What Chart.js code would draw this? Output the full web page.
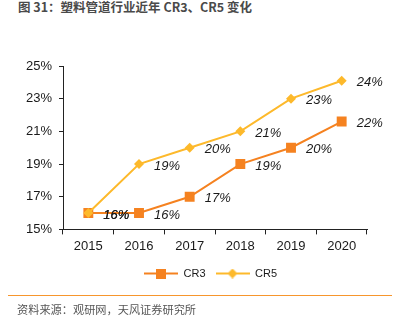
<!DOCTYPE html>
<html>
<head>
<meta charset="utf-8">
<script src="https://cdn.jsdelivr.net/npm/chart.js@4/dist/chart.umd.min.js"></script>
<style>
  body { margin: 0; background: #fff; width: 393px; height: 322px; overflow: hidden; position: relative; }
  #title { position: absolute; left: 18px; top: -1px; font: bold 12.5px "Noto Sans CJK SC", sans-serif; color: #4a4a4a; line-height: 15px; }
  #wrap { position: absolute; left: 0; top: 0; width: 393px; height: 296px; }
  #rule { position: absolute; left: 8px; top: 295px; width: 384px; height: 0; border-top: 1.5px solid #f7962d; }
  #src { position: absolute; left: 17px; top: 302px; font: 11.2px "Noto Sans CJK SC", sans-serif; color: #555; line-height: 15px; }
</style>
</head>
<body>
<div id="title">图 31：塑料管道行业近年 CR3、CR5 变化</div>
<div id="wrap"><canvas id="c"></canvas></div>
<div id="rule"></div>
<div id="src">资料来源：观研网，天风证券研究所</div>
<script>
const years = ['2015', '2016', '2017', '2018', '2019', '2020'];
const cr3 = [16.0, 16.0, 17.0, 19.0, 20.0, 21.6];
const cr5 = [16.0, 19.0, 20.0, 21.0, 23.0, 24.1];
const yTicks = [15, 17, 19, 21, 23, 25];

const orange = '#f58220';
const yellow = '#fdb92b';

// little line+marker image for the legend
function legendIcon(color, shape) {
    const c = document.createElement('canvas');
    c.width = 34; c.height = 10;
    const ctx = c.getContext('2d');
    ctx.strokeStyle = color;
    ctx.lineWidth = 2;
    ctx.beginPath(); ctx.moveTo(0, 5); ctx.lineTo(34, 5); ctx.stroke();
    ctx.fillStyle = color;
    if (shape == 'rect') {
        ctx.fillRect(12, 0, 10, 10);
    } else {
        ctx.beginPath();
        ctx.moveTo(17, 0); ctx.lineTo(22, 5); ctx.lineTo(17, 10); ctx.lineTo(12, 5);
        ctx.closePath(); ctx.fill();
    }
    return c;
}

const valueLabels = {
    id: 'valueLabels',
    afterDatasetsDraw(chart) {
        const ctx = chart.ctx;
        ctx.save();
        ctx.font = 'italic 13px "Liberation Sans", Arial, sans-serif';
        ctx.fillStyle = '#1a1a1a';
        ctx.textBaseline = 'middle';
        ctx.textAlign = 'left';
        chart.data.datasets.forEach((ds, i) => {
            chart.getDatasetMeta(i).data.forEach((pt, j) => {
                ctx.fillText(Math.round(ds.data[j]) + '%', pt.x + 15, pt.y + 2);
            });
        });
        ctx.restore();
    }
};

// legend sits a bit right of the canvas centre in the original
const shiftLegend = {
    id: 'shiftLegend',
    afterLayout(chart) {
        chart.legend.left += 27;
        chart.legend.right += 27;
    }
};

Chart.defaults.font.family = '"Liberation Sans", Arial, sans-serif';
Chart.defaults.color = '#1a1a1a';

new Chart(document.getElementById('c'), {
    type: 'line',
    data: {
        labels: years,
        datasets: [
            {
                label: 'CR3',
                data: cr3,
                borderColor: orange,
                backgroundColor: orange,
                borderWidth: 2,
                pointStyle: 'rect',
                pointRadius: 7,
                pointHoverRadius: 7,
                pointBorderWidth: 0,
                order: 1
            },
            {
                label: 'CR5',
                data: cr5,
                borderColor: yellow,
                backgroundColor: yellow,
                borderWidth: 2,
                pointStyle: 'rectRot',
                pointRadius: 5,
                pointHoverRadius: 5,
                pointBorderWidth: 0,
                order: 0
            }
        ]
    },
    options: {
        responsive: true,
        maintainAspectRatio: false,
        animation: false,
        layout: { padding: { top: 66, right: 26, left: 0, bottom: 7 } },
        plugins: {
            tooltip: { enabled: false },
            legend: {
                position: 'bottom',
                labels: {
                    usePointStyle: true,
                    pointStyleWidth: 34,
                    boxHeight: 10,
                    padding: 10,
                    font: { size: 11 },
                    color: '#1a1a1a',
                    generateLabels: (chart) => chart.data.datasets.map((ds, i) => ({
                        text: ds.label,
                        pointStyle: legendIcon(ds.borderColor, i == 0 ? 'rect' : 'diamond'),
                        fillStyle: ds.borderColor,
                        strokeStyle: ds.borderColor,
                        lineWidth: 0,
                        datasetIndex: i,
                        fontColor: '#1a1a1a'
                    }))
                }
            }
        },
        scales: {
            x: {
                offset: true,
                grid: { offset: true, drawOnChartArea: false, tickLength: 5, color: '#222' },
                border: { color: '#222', width: 1 },
                ticks: { font: { size: 13 }, padding: 4, color: '#1a1a1a' }
            },
            y: {
                min: 15,
                max: 25,
                afterBuildTicks: (s) => { s.ticks = yTicks.map(v => ({ value: v })); },
                afterFit: (s) => { s.width = 63; },
                grid: { drawOnChartArea: false, tickLength: 4, color: '#222' },
                border: { color: '#222', width: 1 },
                ticks: { font: { size: 13 }, padding: 7, color: '#1a1a1a', callback: (v) => v + '%' }
            }
        }
    },
    plugins: [valueLabels, shiftLegend]
});
</script>
</body>
</html>
